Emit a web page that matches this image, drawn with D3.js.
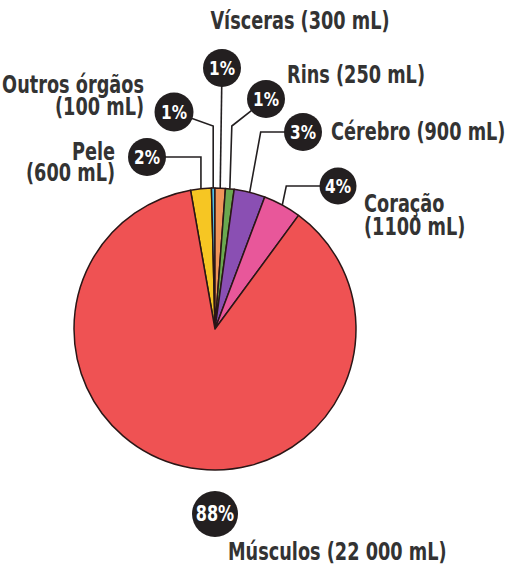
<!DOCTYPE html>
<html><head><meta charset="utf-8">
<script src="https://cdn.jsdelivr.net/npm/d3@7"></script>
<style>
html,body{margin:0;padding:0;background:#fff;}
text{font-family:'Liberation Sans Narrow','Arial Narrow','DejaVu Sans Condensed',sans-serif;font-weight:bold;}
</style></head><body>
<svg id="c" width="508" height="564"></svg>
<script>
// ---- data ----
const categories = ["Pele", "Outros órgãos", "Vísceras", "Rins", "Cérebro", "Coração", "Músculos"];
const volumes = [600, 100, 300, 250, 900, 1100, 22000];           // mL
const volumeLabels = ["600 mL", "100 mL", "300 mL", "250 mL", "900 mL", "1100 mL", "22 000 mL"];
const percentLabels = ["2%", "1%", "1%", "1%", "3%", "4%", "88%"];
const colors = ["#f6c623", "#4cbfe6", "#f0955a", "#6aa84f", "#8a4fb3", "#e8579a", "#ef5253"];

// ---- layout (positions only) ----
const cx = 215, cy = 329, R = 141;
const layout = [
  {c:[147,157], r:19, lines:[["Pele",115,160,"end"],["(600 mL)",115,181,"end"]],
   path:(ex,ey,c)=>[[c[0],c[1]],[ex,c[1]],[ex,ey]]},
  {c:[174,112], r:19.5, lines:[["Outros órgãos",144,93,"end"],["(100 mL)",144,115,"end"]],
   path:(ex,ey,c)=>[[c[0],c[1]],[ex,126],[ex,ey]]},
  {c:[222,68], r:19, lines:[["Vísceras (300 mL)",300,29,"middle"]],
   path:(ex,ey,c)=>[[c[0],c[1]],[ex,ey]]},
  {c:[266,99], r:19, lines:[["Rins (250 mL)",287,83,"start"]],
   path:(ex,ey,c)=>[[c[0],c[1]],[ex+2,126],[ex,ey]]},
  {c:[303,132], r:19, lines:[["Cérebro (900 mL)",331,140,"start"]],
   path:(ex,ey,c)=>[[c[0],c[1]],[ex+11,c[1]],[ex,ey]]},
  {c:[338,186], r:18.5, lines:[["Coração",364,212,"start"],["(1100 mL)",364,235,"start"]],
   path:(ex,ey,c)=>[[c[0],c[1]],[ex+4,c[1]],[ex,ey]]},
  {c:[215,514], r:23, lines:[["Músculos (22 000 mL)",228,560,"start"]], path:null}
];
const labelSqueeze = 0.82, pctSqueeze = 0.85;

const svg = d3.select("#c");
const pie = d3.pie().sort(null).value(d => d)
  .startAngle(-10 * Math.PI / 180).endAngle(350 * Math.PI / 180);
const arcs = pie(volumes);
const arc = d3.arc().innerRadius(0).outerRadius(R);

// leader lines
const lineGen = d3.line();
arcs.forEach((a, i) => {
  const L = layout[i];
  if (!L.path) return;
  const m = (a.startAngle + a.endAngle) / 2;
  const ex = cx + R * Math.sin(m), ey = cy - R * Math.cos(m);
  svg.append("path").attr("d", lineGen(L.path(ex, ey, L.c)))
    .attr("fill", "none").attr("stroke", "#231f20").attr("stroke-width", 1.6)
    .attr("stroke-linejoin", "miter");
});

// pie
const g = svg.append("g").attr("transform", `translate(${cx},${cy})`);
g.selectAll("path").data(arcs).join("path")
  .attr("d", arc)
  .attr("fill", (d, i) => colors[i])
  .attr("stroke", "#2a1616").attr("stroke-width", 1.5).attr("stroke-linejoin", "round");

// percent bubbles
arcs.forEach((a, i) => {
  const L = layout[i];
  svg.append("circle").attr("cx", L.c[0]).attr("cy", L.c[1]).attr("r", L.r).attr("fill", "#231f20");
  svg.append("text")
    .attr("transform", `translate(${L.c[0]},${L.c[1] + 7}) scale(${pctSqueeze},1)`)
    .attr("text-anchor", "middle").attr("fill", "#fff")
    .style("font-size", (i === 6 ? 21 : 20) + "px")
    .text(percentLabels[i]);
});

// category labels
arcs.forEach((a, i) => {
  layout[i].lines.forEach(([t, x, y, anchor]) => {
    svg.append("text")
      .attr("transform", `translate(${x},${y}) scale(${labelSqueeze},1)`)
      .attr("text-anchor", anchor)
      .attr("fill", "#333333").style("font-size", "24px").text(t);
  });
});
</script>
</body></html>
